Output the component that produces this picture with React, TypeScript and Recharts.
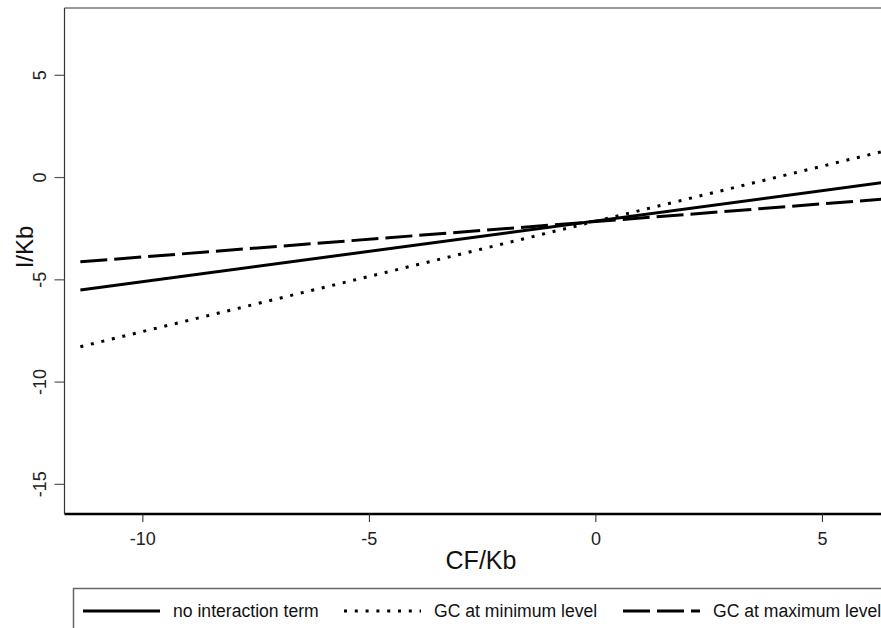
import { LineChart, Line, XAxis, YAxis, ReferenceLine } from "recharts";

const cfKb = [-11.38, 6.3];
const noInteraction = [-5.5, -0.25];
const gcMin = [-8.27, 1.26];
const gcMax = [-4.12, -1.06];

const xTicks = [-10, -5, 0, 5];
const yTicks = [5, 0, -5, -10, -15];
const xDomain: [number, number] = [-11.73, 7.0];
const yDomain: [number, number] = [-16.45, 8.29];

const legendItems = [
  { label: "no interaction term", dash: "none", lineX: 83, textX: 173 },
  { label: "GC at minimum level", dash: "3 7.8", lineX: 344, textX: 434 },
  { label: "GC at maximum level", dash: "27 7", lineX: 623, textX: 713 },
];

const rows = cfKb.map((x, i) => ({
  x,
  noInteraction: noInteraction[i],
  gcMin: gcMin[i],
  gcMax: gcMax[i],
}));

const font = "'Liberation Sans', Arial, sans-serif";

const YTick = (props: any) => {
  const { x, y, payload } = props;
  return (
    <text
      x={x}
      y={y}
      transform={`rotate(-90 ${x} ${y})`}
      textAnchor="middle"
      fontSize={18}
      fontFamily={font}
      fill="#222"
    >
      {payload.value}
    </text>
  );
};

const XTick = (props: any) => {
  const { x, y, payload } = props;
  return (
    <text x={x} y={y + 13} textAnchor="middle" fontSize={18} fontFamily={font} fill="#222">
      {payload.value}
    </text>
  );
};

export default function App() {
  return (
    <div
      style={{
        position: "fixed",
        left: 0,
        top: 0,
        width: 881,
        height: 628,
        overflow: "hidden",
        background: "#fff",
      }}
    >
      <LineChart
        width={913}
        height={628}
        data={rows}
        margin={{ top: 8, right: 0, bottom: 0, left: 0 }}
      >
        <XAxis
          dataKey="x"
          type="number"
          domain={xDomain}
          ticks={xTicks}
          allowDataOverflow
          height={114}
          tickSize={8}
          tickMargin={10}
          axisLine={{ stroke: "#000", strokeWidth: 2.5 }}
          tickLine={{ stroke: "#222", strokeWidth: 1 }}
          tick={<XTick />}
          label={{
            content: () => (
              <text x={481} y={569} textAnchor="middle" fontSize={25} fontFamily={font} fill="#111">
                CF/Kb
              </text>
            ),
          }}
        />
        <YAxis
          type="number"
          domain={yDomain}
          ticks={yTicks}
          allowDataOverflow
          width={64.5}
          tickSize={10}
          tickMargin={8}
          axisLine={{ stroke: "#333", strokeWidth: 1.2 }}
          tickLine={{ stroke: "#555", strokeWidth: 1.2 }}
          tick={<YTick />}
          label={{
            content: () => (
              <text
                x={33}
                y={247}
                transform="rotate(-90 33 247)"
                textAnchor="middle"
                fontSize={24}
                fontFamily={font}
                fill="#111"
              >
                I/Kb
              </text>
            ),
          }}
        />
        <ReferenceLine y={yDomain[1]} stroke="#333" strokeWidth={1.2} />
        <Line
          dataKey="noInteraction"
          stroke="#000"
          strokeWidth={3}
          dot={false}
          type="linear"
          isAnimationActive={false}
        />
        <Line
          dataKey="gcMin"
          stroke="#000"
          strokeWidth={3}
          strokeDasharray="3 7.8"
          dot={false}
          type="linear"
          isAnimationActive={false}
        />
        <Line
          dataKey="gcMax"
          stroke="#000"
          strokeWidth={3}
          strokeDasharray="27 7"
          dot={false}
          type="linear"
          isAnimationActive={false}
        />
      </LineChart>
      <svg
        width={881}
        height={628}
        style={{ position: "absolute", left: 0, top: 0, pointerEvents: "none" }}
      >
        <rect x={73.5} y={588.5} width={900} height={80} fill="none" stroke="#666" strokeWidth={1.5} />
        {legendItems.map((it) => (
          <g key={it.label}>
            <line
              x1={it.lineX}
              x2={it.lineX + 77}
              y1={611}
              y2={611}
              stroke="#000"
              strokeWidth={3}
              strokeDasharray={it.dash}
            />
            <text x={it.textX} y={617} fontSize={17.6} fontFamily={font} fill="#111">
              {it.label}
            </text>
          </g>
        ))}
      </svg>
    </div>
  );
}
